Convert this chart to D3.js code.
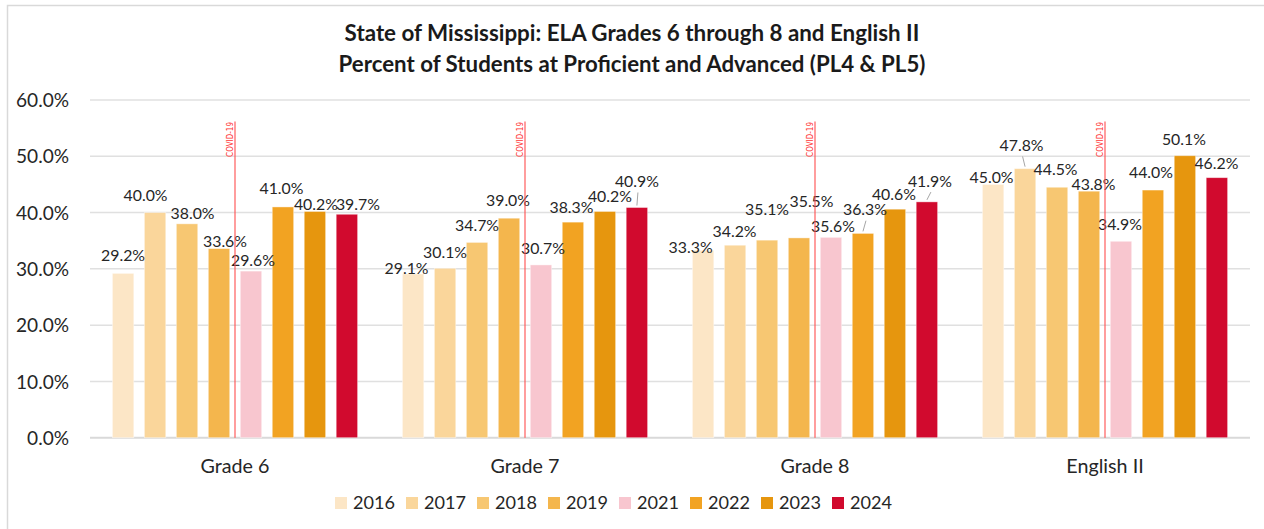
<!DOCTYPE html>
<html>
<head>
<meta charset="utf-8">
<script src="https://cdn.jsdelivr.net/npm/d3@7"></script>
<style>
  html, body { margin: 0; padding: 0; background: #fff; }
  svg { display: block; font-family: Lato, "Open Sans", sans-serif; }
</style>
</head>
<body>
<svg id="chart" width="1264" height="529"></svg>
<script>
// ---- Data ----
const categories = ["Grade 6", "Grade 7", "Grade 8", "English II"];
const years = ["2016", "2017", "2018", "2019", "2021", "2022", "2023", "2024"];
const y2016 = [29.2, 29.1, 33.3, 45.0];
const y2017 = [40.0, 30.1, 34.2, 47.8];
const y2018 = [38.0, 34.7, 35.1, 44.5];
const y2019 = [33.6, 39.0, 35.5, 43.8];
const y2021 = [29.6, 30.7, 35.6, 34.9];
const y2022 = [41.0, 38.3, 36.3, 44.0];
const y2023 = [40.2, 40.2, 40.6, 50.1];
const y2024 = [39.7, 40.9, 41.9, 46.2];
const yTicks = [0, 10, 20, 30, 40, 50, 60];
const titleLines = [
  "State of Mississippi: ELA Grades 6 through 8 and English II",
  "Percent of Students at Proficient and Advanced (PL4 & PL5)"
];
const covidLabel = "COVID-19";

// label nudges (px) relative to default position above each bar, per category, per year
const labelNudgeX = [
  [0, -9.5, 5.5, 6, 2, -1.5, 1, 11],
  [-6.5, 0, 0, -1, 2, -1.5, 5, 0],
  [-12.5, -0.5, 0, 12.5, 2, 2, -1, 3],
  [-1.5, -3.5, -1.5, 4.5, -1, -2, -1, -0.5]
];
const labelNudgeY = [
  [-5.7, -5, 1.6, 5, 1, -6.5, 5, 2],
  [6.4, -4.3, -5, -5.8, -4.3, -2.8, -3, -14],
  [8.8, -2.2, -18.5, -24.8, 1, -11.7, -2.5, -8.8],
  [4.7, -11.2, -5.5, 5.2, -4.9, -6, -4, -2]
];
const leaderLines = [[1, 7], [2, 5], [2, 7], [3, 1]]; // [category, year index]

const seriesValues = [y2016, y2017, y2018, y2019, y2021, y2022, y2023, y2024];
const colors = ["#FCE6C6", "#FAD69B", "#F7C772", "#F4B64D", "#F8C6CF", "#F2A322", "#E6960E", "#D10A2E"];

// ---- Layout ----
const svg = d3.select("#chart");
const plot = { left: 90, right: 1250, top: 100, bottom: 437.7 };

// chart border
svg.append("rect").attr("x", 7.5).attr("y", 5.5).attr("width", 1400).attr("height", 700)
  .attr("fill", "none").attr("stroke", "#d9d9d9").attr("stroke-width", 1.5);

const x0 = d3.scaleBand().domain(categories).range([plot.left, plot.right]).paddingInner(0).paddingOuter(0);
const x1 = d3.scaleBand().domain(years).range([0, x0.bandwidth()]).paddingInner(0.33).paddingOuter(0.7);
const y = d3.scaleLinear().domain([0, 60]).range([plot.bottom, plot.top]);

// font fitting helper: choose size so sample string measures target width
function fitSize(sample, targetW, weight) {
  const t = svg.append("text").attr("font-size", 100).attr("font-weight", weight || "normal").text(sample);
  const w = t.node().getComputedTextLength();
  t.remove();
  return 100 * targetW / w;
}
const fsTick = fitSize("60.0%", 53);
const fsLabel = fitSize("40.0%", 44);
const fsLegend = fitSize("2016", 42);
const fsCat = fitSize("Grade 6", 69);
const fsTitles = [fitSize(titleLines[0], 575, "bold"), fitSize(titleLines[1], 587, "bold")];

// gridlines + y labels
const grid = svg.append("g");
yTicks.forEach(t => {
  grid.append("line").attr("x1", plot.left).attr("x2", plot.right)
    .attr("y1", y(t)).attr("y2", y(t))
    .attr("stroke", t === 0 ? "#d9d9d9" : "#e0e0e0").attr("stroke-width", t === 0 ? 2 : 1.5);
});
const yAxis = d3.axisLeft(y).tickValues(yTicks).tickFormat(d => d.toFixed(1) + "%").tickSize(0).tickPadding(0);
const yg = svg.append("g").attr("transform", `translate(69,0)`).call(yAxis);
yg.select(".domain").remove();
yg.selectAll("text").attr("font-size", fsTick).attr("fill", "#262626")
  .attr("font-family", "Lato, 'Open Sans', sans-serif").attr("dy", "0.35em");

// bars
const gCats = svg.append("g").selectAll("g").data(categories).join("g")
  .attr("transform", d => `translate(${x0(d)},0)`);

gCats.each(function (cat, ci) {
  const g = d3.select(this);
  years.forEach((yr, yi) => {
    const v = seriesValues[yi][ci];
    g.append("rect")
      .attr("x", x1(yr)).attr("width", x1.bandwidth())
      .attr("y", y(v)).attr("height", y(0) - y(v))
      .attr("fill", colors[yi])
      .attr("stroke", "rgba(255,255,255,0.5)").attr("stroke-width", 0.8);
  });
});

// COVID markers (between 2019 and 2021 in each group)
categories.forEach(cat => {
  const raw = x0(cat) + (x1("2019") + x1.bandwidth() + x1("2021")) / 2;
  const cx = Math.round(raw);
  svg.append("line").attr("x1", cx).attr("x2", cx).attr("y1", 121.5).attr("y2", plot.bottom)
    .style("stroke", "#FF4D4D").style("stroke-width", "1.1px");
  svg.append("text")
    .attr("transform", `translate(${cx - 2},122) rotate(-90)`)
    .attr("text-anchor", "end")
    .attr("font-size", 8).style("fill", "#FF3030")
    .attr("font-family", "'Liberation Sans Narrow', 'DejaVu Sans Condensed', sans-serif")
    .text(covidLabel);
});

// data labels
gCats.each(function (cat, ci) {
  const g = d3.select(this);
  years.forEach((yr, yi) => {
    const v = seriesValues[yi][ci];
    const bx = x1(yr) + x1.bandwidth() / 2;
    const lx = bx + labelNudgeX[ci][yi];
    const ly = y(v) - 12 + labelNudgeY[ci][yi];
    g.append("text").attr("x", lx).attr("y", ly)
      .attr("text-anchor", "middle").attr("dy", "0.35em")
      .attr("font-size", fsLabel).attr("fill", "#262626")
      .text(v.toFixed(1) + "%");
    if (leaderLines.some(p => p[0] === ci && p[1] === yi)) {
      g.append("line").attr("x1", lx + 1).attr("y1", ly + 11)
        .attr("x2", bx).attr("y2", y(v) - 2)
        .attr("stroke", "#a6a6a6").attr("stroke-width", 1);
    }
  });
});

// category labels
const xAxis = d3.axisBottom(x0).tickSize(0).tickPadding(0);
const xg = svg.append("g").attr("transform", `translate(0,466)`).call(xAxis);
xg.select(".domain").remove();
xg.selectAll("text").attr("font-size", fsCat).attr("fill", "#262626")
  .attr("font-family", "Lato, 'Open Sans', sans-serif").attr("dy", "0.35em");

// title
svg.append("g").selectAll("text").data(titleLines).join("text")
  .attr("x", 632).attr("y", (d, i) => i === 0 ? 40.5 : 71.5)
  .attr("text-anchor", "middle").attr("font-weight", "bold")
  .attr("font-size", (d, i) => fsTitles[i]).attr("fill", "#1a1a1a").text(d => d);

// legend
const legend = svg.append("g").attr("transform", "translate(335,503)");
const legendStep = 71;
years.forEach((yr, i) => {
  const lg = legend.append("g").attr("transform", `translate(${i * legendStep},0)`);
  lg.append("rect").attr("x", 0).attr("y", -6).attr("width", 12).attr("height", 12).attr("fill", colors[i]);
  lg.append("text").attr("x", 18).attr("y", 0).attr("dy", "0.35em")
    .attr("font-size", fsLegend).attr("fill", "#262626").text(yr);
});
</script>
</body>
</html>
